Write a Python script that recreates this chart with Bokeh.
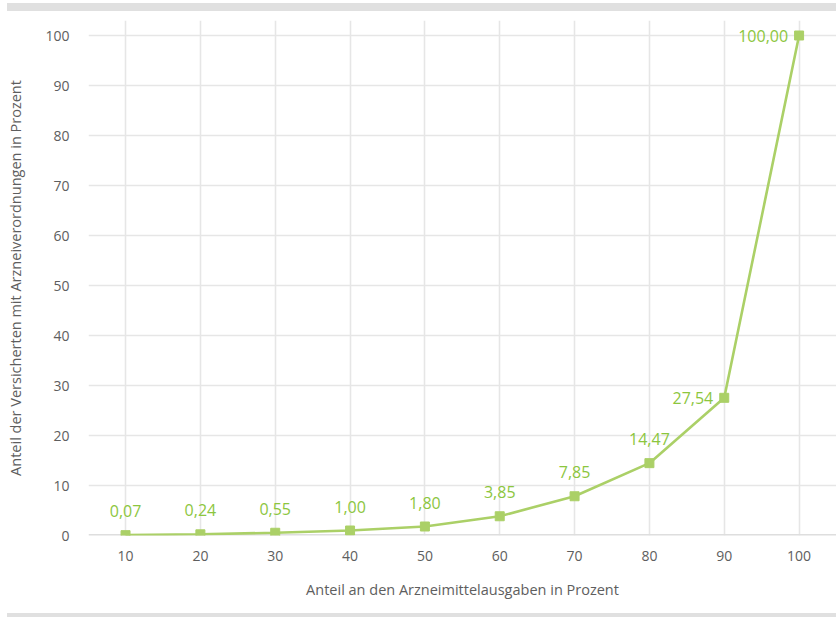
from bokeh.plotting import figure
from bokeh.models import ColumnDataSource, Div, Range1d, FixedTicker, Span
from bokeh.layouts import column
from bokeh.embed import file_html
from bokeh.resources import INLINE
from bokeh.core.properties import value

# Share of drug expenditure (x) vs. share of insured persons (y), cumulative
expenditure_share = [10, 20, 30, 40, 50, 60, 70, 80, 90, 100]
insured_share = [0.07, 0.24, 0.55, 1.00, 1.80, 3.85, 7.85, 14.47, 27.54, 100.00]
x_ticks = [10, 20, 30, 40, 50, 60, 70, 80, 90, 100]
y_ticks = [0, 10, 20, 30, 40, 50, 60, 70, 80, 90, 100]

FONT = "Open Sans"
GREEN_LINE = "#abd067"
GREEN_TEXT = "#8cc63e"
GRAY_TEXT = "#5e5e5e"
GRID = "#e6e6e6"
BAR = "#e0e0e0"

labels = [f"{v:.2f}".replace(".", ",") for v in insured_share]
src = ColumnDataSource(dict(x=expenditure_share, y=insured_share, label=labels))

p = figure(
    width=836, height=599,
    x_range=Range1d(5.05, 105.0), y_range=Range1d(0, 103),
    output_backend="svg", toolbar_location=None,
    min_border_left=88, min_border_right=0, min_border_top=8, min_border_bottom=76,
)
p.outline_line_color = None
p.background_fill_color = "white"
p.border_fill_color = "white"

p.xaxis.ticker = FixedTicker(ticks=x_ticks)
p.yaxis.ticker = FixedTicker(ticks=y_ticks)
p.xgrid.ticker = FixedTicker(ticks=x_ticks)
p.ygrid.ticker = FixedTicker(ticks=y_ticks)
p.grid.grid_line_color = GRID
p.grid.grid_line_width = 1.6

for ax in (p.xaxis, p.yaxis):
    ax.major_tick_line_color = None
    ax.minor_tick_line_color = None
    ax.axis_line_color = None
    ax.major_label_text_font = FONT
    ax.major_label_text_font_size = "14px"
    ax.major_label_text_color = GRAY_TEXT
    ax.axis_label_text_font = FONT
    ax.axis_label_text_font_size = "14.5px"
    ax.axis_label_text_font_style = "normal"
    ax.axis_label_text_color = GRAY_TEXT

p.yaxis.major_label_standoff = 13
p.yaxis.axis_label = "Anteil der Versicherten mit Arzneiverordnungen in Prozent"
p.yaxis.axis_label_standoff = 17

p.xaxis.major_label_standoff = 9
p.xaxis.axis_label = "Anteil an den Arzneimittelausgaben in Prozent"
p.xaxis.axis_label_standoff = 16

# Baseline at zero, kept beneath the data marks
p.add_layout(Span(location=0, dimension="width", line_color="#dedede",
                  line_width=3, level="underlay"))

p.line("x", "y", source=src, line_color=GREEN_LINE, line_width=2.6)
p.scatter("x", "y", source=src, marker="square", size=9,
          fill_color=GREEN_LINE, line_color=GREEN_LINE)

# Value labels: above the point for the flat part, left of it for the steep end
above = ColumnDataSource(dict(x=expenditure_share[:8], y=insured_share[:8], label=labels[:8]))
left = ColumnDataSource(dict(x=expenditure_share[8:], y=insured_share[8:], label=labels[8:]))
p.text("x", "y", text="label", source=above, text_align="center",
       text_baseline="middle", y_offset=-24, text_font=value(FONT),
       text_font_size="16px", text_color=GREEN_TEXT)
p.text("x", "y", text="label", source=left, text_align="right",
       text_baseline="middle", x_offset=-11, y_offset=0, text_font=value(FONT),
       text_font_size="16px", text_color=GREEN_TEXT)

bar_top = Div(width=829, height=8, margin=(3, 0, 1, 7),
              styles={"background-color": BAR})
bar_bottom = Div(width=829, height=4, margin=(2, 0, 0, 7),
                 styles={"background-color": BAR})
p.margin = 0

layout = column(bar_top, p, bar_bottom, spacing=0, margin=0)
open("out.html", "w").write(file_html(layout, INLINE))
